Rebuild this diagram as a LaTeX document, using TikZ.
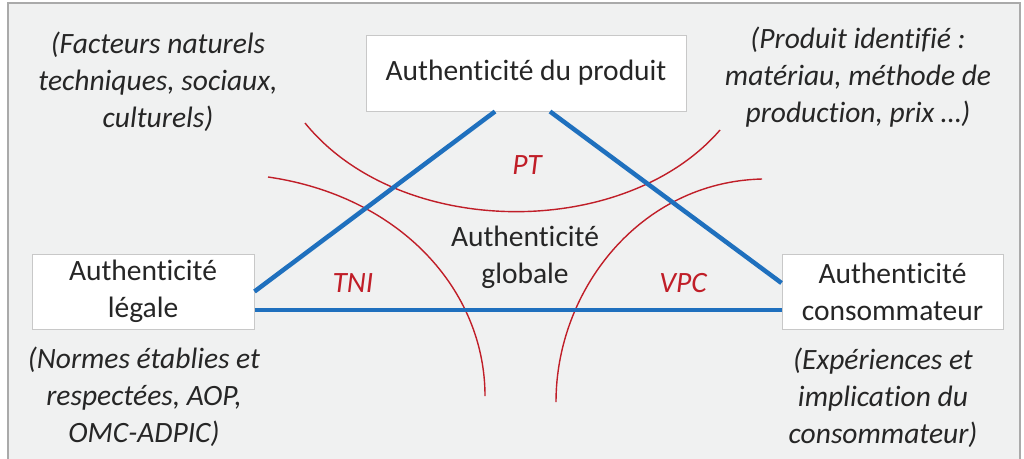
\documentclass[tikz,border=0pt]{standalone}
\usepackage{fontspec}
\setmainfont{Carlito}[Ligatures=NoCommon]
\definecolor{bgc}{RGB}{240,241,241}
\definecolor{framec}{RGB}{170,170,170}
\definecolor{boxc}{RGB}{200,200,200}
\definecolor{bluec}{RGB}{31,112,190}
\definecolor{redc}{RGB}{192,30,40}
\definecolor{txtc}{RGB}{38,38,38}
\newcommand{\bigfs}{\fontsize{29.5}{37}\selectfont}
\tikzset{
  box/.style={draw=boxc, line width=1pt, fill=white, align=center, inner sep=0pt, text=txtc, font=\bigfs},
  note/.style={align=center, text=txtc, font=\bigfs\itshape, inner sep=0pt},
  zone/.style={text=redc, font=\bigfs\itshape, inner sep=0pt},
  plain/.style={align=center, text=txtc, font=\bigfs, inner sep=0pt},
  axis/.style={draw=bluec, line width=4.5pt},
  arcline/.style={draw=redc, line width=1.4pt},
}
\begin{document}
\begin{tikzpicture}[x=1pt,y=-1pt]
\useasboundingbox (0,0) rectangle (1024,458);
\fill[bgc] (8,3) rectangle (1020,470);
\draw[framec, line width=1.5pt] (8,470) -- (8,3) -- (1020,3) -- (1020,470);

% red arcs
\coordinate (pa) at (305,123); \coordinate (pb) at (720,130);
\coordinate (ta) at (268,177); \coordinate (tb) at (485,396);
\coordinate (va) at (762,179); \coordinate (vb) at (556,402);
\draw[arcline] (pa) .. controls (400,240) and (625,240) .. (pb);
\draw[arcline] (ta) .. controls (400,196) and (485,290) .. (tb);
\draw[arcline] (va) .. controls (640,182) and (556,290) .. (vb);

% boxes
\node[box, minimum width=320pt, minimum height=76pt] (top) at (526,73) {Authenticité du produit};
\node[box, minimum width=222pt, minimum height=75pt] (left) at (143,291.5) {Authenticité\\légale};
\node[box, minimum width=221pt, minimum height=75pt] (right) at (892.5,291.5) {Authenticité\\consommateur};

% triangle
\draw[axis] (left.east) -- ([xshift=-31pt]top.south);
\draw[axis] ([xshift=24pt]top.south) -- ([yshift=8.5pt]right.west);
\draw[axis] ([yshift=-18.5pt]left.east) -- ([yshift=-18.5pt]right.west);

% labels
\node[plain] (glob) at (525,257) {Authenticité\\globale};
\node[zone] (pt) at (527,165) {PT};
\node[zone] (tni) at (353,283) {TNI};
\node[zone] (vpc) at (683,283) {VPC};

% notes
\node[note] (n1) at (158,82) {(Facteurs naturels\\techniques, sociaux,\\culturels)};
\node[note] (n2) at (858,77) {(Produit identifié :\\matériau, méthode de\\production, prix …)};
\node[note] (n3) at (144,397) {(Normes établies et\\respectées, AOP,\\OMC-ADPIC)};
\node[note] (n4) at (883,398) {(Expériences et\\implication du\\consommateur)};
\end{tikzpicture}
\end{document}
